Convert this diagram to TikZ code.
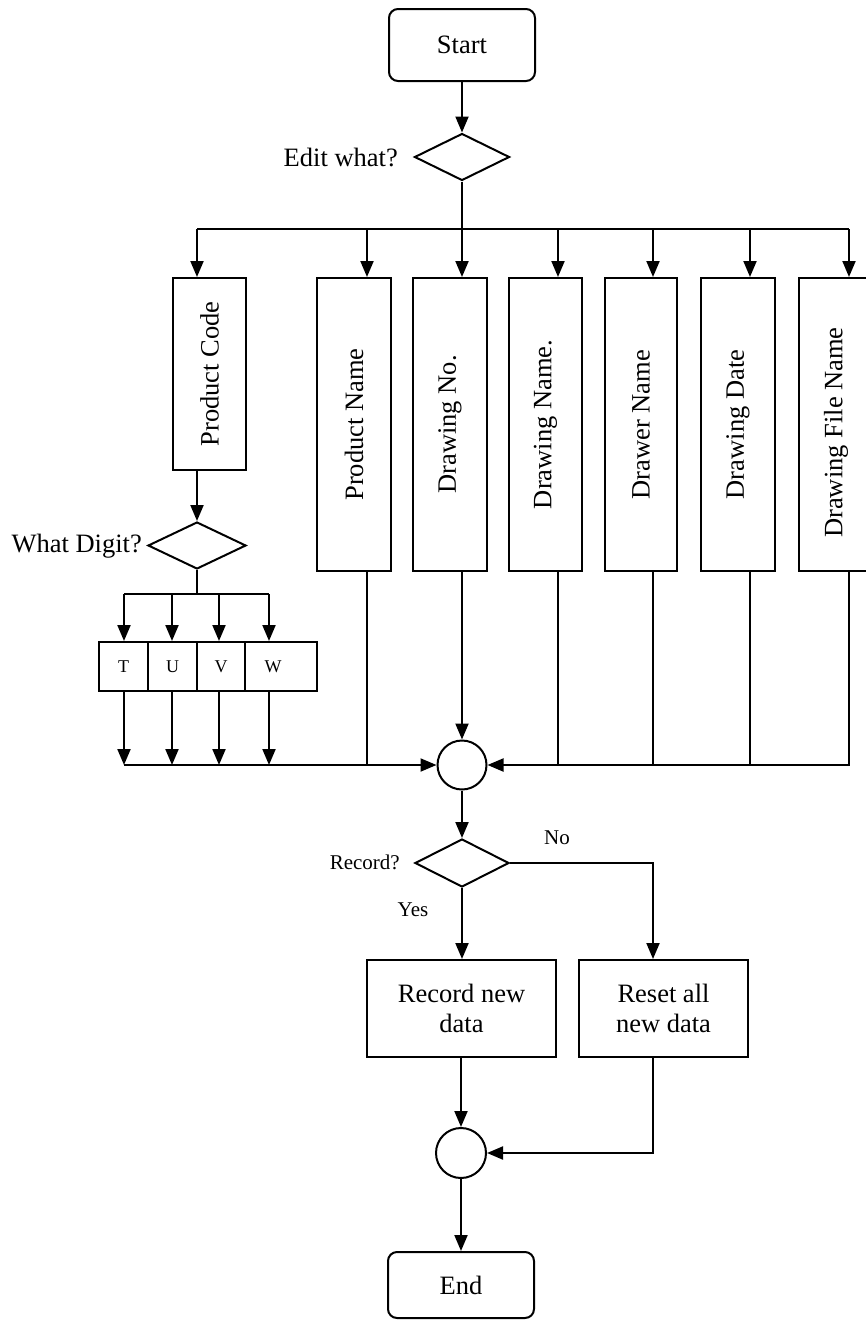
\documentclass[tikz,border=0pt]{standalone}
\usepackage{fontspec}
\setmainfont{Liberation Serif}
\usetikzlibrary{shapes.geometric,arrows.meta}
\tikzset{
 lw/.style={line width=2pt},
 term/.style={draw, lw, rounded corners=9pt, minimum width=146pt, minimum height=72pt, inner sep=0},
 dec/.style={draw, lw, diamond, aspect=2, inner sep=0, minimum width=95pt, minimum height=47pt},
 vbox/.style={draw, lw, inner sep=0, minimum width=73pt, minimum height=293pt},
 pbox/.style={draw, lw, inner sep=0, align=center, minimum height=97pt},
 digbox/.style={draw, lw, inner sep=0, minimum height=49pt, font=\fontsize{18}{20}\selectfont},
 junc/.style={draw, lw, circle, inner sep=0, minimum size=49pt},
 lab/.style={inner sep=0, anchor=east},
 small/.style={font=\fontsize{21}{24}\selectfont, inner sep=0},
 arr/.style={lw, -{Triangle[length=16pt,width=13pt]}},
 ln/.style={lw},
}
\begin{document}
\begin{tikzpicture}[x=1pt,y=-1pt, every node/.append style={font=\fontsize{26.5}{30}\selectfont}]
\useasboundingbox (0,0) rectangle (866,1320);
\clip (0,0) rectangle (866,1320);
% top
\node[term] (start) at (462,45) {Start};
\node[dec] (edit) at (462,157) {};
\node[lab] (editl) at (398,157) {Edit what?};
% column boxes
\node[vbox, minimum height=192pt] (pc) at (209.5,374) {\rotatebox{90}{Product Code}};
\node[vbox, minimum width=74pt] (pn) at (354,424.5) {\rotatebox{90}{Product Name}};
\node[vbox, minimum width=74pt] (dno) at (450,424.5) {\rotatebox{90}{Drawing No.}};
\node[vbox] (dna) at (545.5,424.5) {\rotatebox{90}{Drawing Name.}};
\node[vbox, minimum width=72pt] (drw) at (641,424.5) {\rotatebox{90}{Drawer Name}};
\node[vbox, minimum width=74pt] (ddt) at (738,424.5) {\rotatebox{90}{Drawing Date}};
\node[vbox, minimum width=74pt] (dfn) at (836,424.5) {\rotatebox{90}{\hspace*{-16pt}Drawing File Name}};
% digit part
\node[dec, minimum width=98pt] (dig) at (197,545.5) {};
\node[lab] (digl) at (142,546) {What Digit?};
\node[digbox, minimum width=49pt] (t) at (123.5,666.5) {T};
\node[digbox, minimum width=49pt] (u) at (172.5,666.5) {U};
\node[digbox, minimum width=48pt] (v) at (221,666.5) {V};
\node[digbox, minimum width=72pt] (w) at (281,666.5) {\hspace*{-16pt}W};
% lower part
\node[junc] (j1) at (462,765) {};
\node[dec, minimum width=94pt, minimum height=48pt] (rec) at (462,863) {};
\node[small, anchor=east] (recl) at (400,862) {Record?};
\node[small] (nol) at (557,838) {No};
\node[small] (yesl) at (413,910) {Yes};
\node[pbox, minimum width=189pt] (rnd) at (461.5,1008.5) {Record new\\data};
\node[pbox, minimum width=169pt] (rst) at (663.5,1008.5) {Reset all\\new data};
\node[junc, minimum size=50pt] (j2) at (461,1153) {};
\node[term, minimum height=66pt] (end) at (461,1285) {End};
% coordinates
\coordinate (bus) at (462,229);
\coordinate (busL) at (197,229);
\coordinate (busR) at (849,229);
\coordinate (xpn) at (367,229);
\coordinate (xdna) at (558,229);
\coordinate (xdrw) at (653,229);
\coordinate (xddt) at (750,229);
\coordinate (xdfn) at (849,229);
\coordinate (sb) at (197,594);
\coordinate (sbT) at (124,594);
\coordinate (sbU) at (172,594);
\coordinate (sbV) at (219,594);
\coordinate (sbW) at (269,594);
\coordinate (lbT) at (124,765);
\coordinate (lbU) at (172,765);
\coordinate (lbV) at (219,765);
\coordinate (lbW) at (269,765);
\coordinate (xno) at (653,863);
% connectors top
\draw[arr] (start) -- (edit);
\draw[ln] (edit.south) -- (bus);
\draw[ln] (busL) -- (busR);
\draw[arr] (busL) -- (busL |- pc.north);
\draw[arr] (xpn) -- (xpn |- pn.north);
\draw[arr] (bus) -- (bus |- dno.north);
\draw[arr] (xdna) -- (xdna |- dna.north);
\draw[arr] (xdrw) -- (xdrw |- drw.north);
\draw[arr] (xddt) -- (xddt |- ddt.north);
\draw[arr] (xdfn) -- (xdfn |- dfn.north);
% digit
\draw[arr] (pc.south -| busL) -- (dig.north);
\draw[ln] (dig.south) -- (sb);
\draw[ln] (sbT) -- (sbW);
\draw[arr] (sbT) -- (sbT |- t.north);
\draw[arr] (sbU) -- (sbU |- u.north);
\draw[arr] (sbV) -- (sbV |- v.north);
\draw[arr] (sbW) -- (sbW |- w.north);
\draw[arr] (t.south -| sbT) -- (lbT);
\draw[arr] (u.south -| sbU) -- (lbU);
\draw[arr] (v.south -| sbV) -- (lbV);
\draw[arr] (w.south -| sbW) -- (lbW);
\draw[arr] (lbT) -- (j1.west);
% into junction 1
\draw[ln] (pn.south -| xpn) -- (xpn |- j1);
\draw[arr] (dno.south -| bus) -- (j1.north);
\draw[ln] (dna.south -| xdna) -- (xdna |- j1);
\draw[ln] (drw.south -| xdrw) -- (xdrw |- j1);
\draw[ln] (ddt.south -| xddt) -- (xddt |- j1);
\draw[arr] (dfn.south -| xdfn) -- (xdfn |- j1) -- (j1.east);
% lower
\draw[arr] (j1) -- (rec);
\draw[arr] (rec.east) -- (xno) -- (xno |- rst.north);
\draw[arr] (rec.south) -- (rec.south |- rnd.north);
\draw[arr] (rnd.south -| j2) -- (j2.north);
\draw[arr] (rst.south -| xno) -- (xno |- j2) -- (j2.east);
\draw[arr] (j2) -- (end);
\end{tikzpicture}
\end{document}
